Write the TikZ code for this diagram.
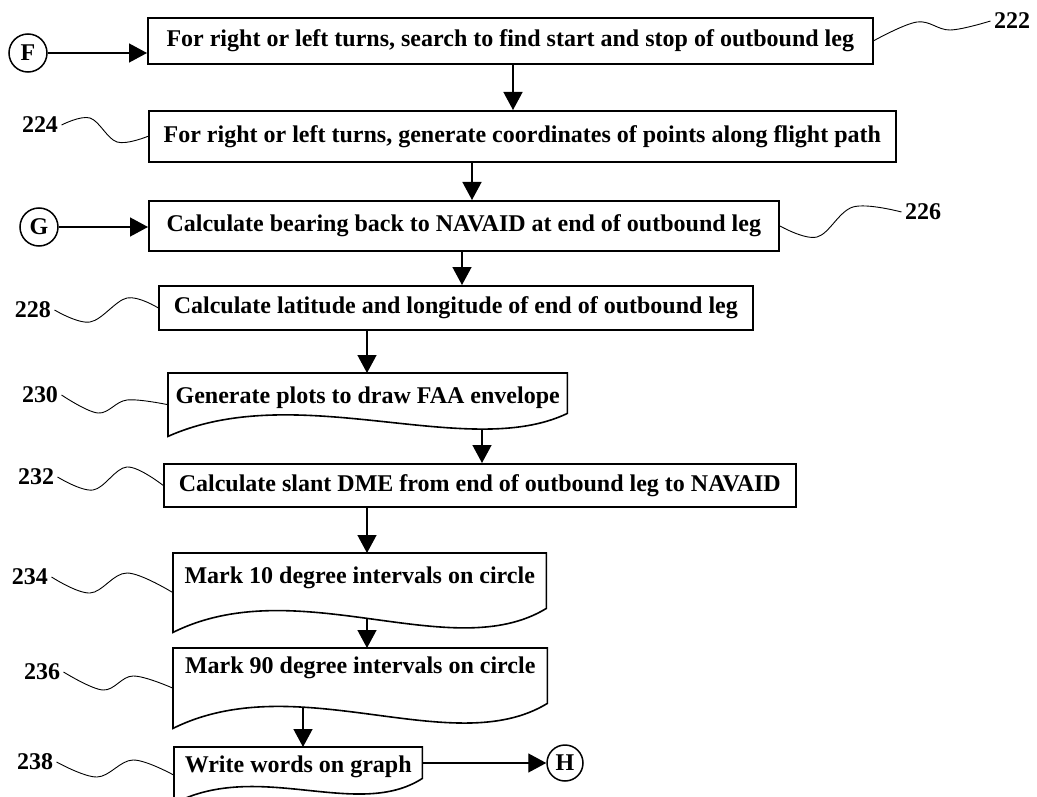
\documentclass[tikz,border=0pt]{standalone}
\usepackage{fontspec}
\setmainfont{Liberation Serif}
\usetikzlibrary{arrows.meta}
\begin{document}
\begin{tikzpicture}[x=1pt, y=-1pt,
    every node/.style={font=\fontsize{24}{28}\selectfont\bfseries},
    stepbox/.style={draw, line width=1.6pt, anchor=north west, inner xsep=6pt, inner ysep=0pt},
    docbox/.style={anchor=north west, inner xsep=6pt, inner ysep=0pt},
    boxline/.style={line width=1.6pt},
    flow/.style={line width=1.4pt, -{Triangle[width=19pt,length=18pt]}},
    leader/.style={line width=0.9pt},
    joint/.style={draw, circle, line width=1.5pt, minimum size=38pt, inner sep=0pt}]
        \useasboundingbox (0,0) rectangle (1037,797);
        \node[stepbox, minimum width=725pt, minimum height=46pt] (b222) at (147,17) {For right or left turns, search to find start and stop of outbound leg};
        \node[stepbox, minimum width=747pt, minimum height=51pt] (b224) at (148,110) {For right or left turns, generate coordinates of points along flight path};
        \node[stepbox, minimum width=630pt, minimum height=50pt] (b226) at (148,200) {Calculate bearing back to NAVAID at end of outbound leg};
        \node[stepbox, minimum width=594pt, minimum height=44pt] (b228) at (158,285) {Calculate latitude and longitude of end of outbound leg};
        \node[docbox, minimum width=399pt, text height=30pt, text depth=33pt] (b230) at (168,373) {Generate plots to draw FAA envelope};
        \node[stepbox, minimum width=632pt, minimum height=43pt] (b232) at (163,463) {Calculate slant DME from end of outbound leg to NAVAID};
        \node[docbox, minimum width=373pt, text height=30pt, text depth=49pt] (b234) at (173,553) {Mark 10 degree intervals on circle};
        \node[docbox, minimum width=374pt, text height=25pt, text depth=55pt] (b236) at (173,648) {Mark 90 degree intervals on circle};
        \node[docbox, minimum width=248pt, text height=25pt, text depth=31pt] (b238) at (174,747) {Write words on graph};
        \draw[boxline] (b230.north west) -- (b230.north east) -- ([yshift=23pt]b230.south east) .. controls +(-100,48) and +(130,-58) .. (b230.south west) -- cycle;
        \draw[boxline] (b234.north west) -- (b234.north east) -- ([yshift=24pt]b234.south east) .. controls +(-95,58) and +(125,-62) .. (b234.south west) -- cycle;
        \draw[boxline] (b236.north west) -- (b236.north east) -- ([yshift=25pt]b236.south east) .. controls +(-95,58) and +(125,-62) .. (b236.south west) -- cycle;
        \draw[boxline] (b238.north west) -- (b238.north east) -- ([yshift=25pt]b238.south east) .. controls +(-65,42) and +(85,-44) .. (b238.south west) -- cycle;
        \coordinate (w230) at (482,429);
        \coordinate (w234) at (367,619);
        \coordinate (w236) at (303,707);
        \node[joint] (F) at (28,53) {F};
        \node[joint] (G) at (39,227) {G};
        \node[joint, minimum size=36pt] (H) at (565,763) {H};
        \draw[flow] (F.east) -- (F.east -| b222.west);
        \draw[flow] (G.east) -- (G.east -| b226.west);
        \draw[flow] (H.west -| b238.east) -- (H.west);
        \draw[flow] (b222.south -| 513,0) -- (b224.north -| 513,0);
        \draw[flow] (b224.south -| 472,0) -- (b226.north -| 472,0);
        \draw[flow] (b226.south -| 462,0) -- (b228.north -| 462,0);
        \draw[flow] (b228.south -| 367,0) -- (b230.north -| 367,0);
        \draw[flow] (w230) -- (w230 |- b232.north);
        \draw[flow] (b232.south -| 367,0) -- (b234.north -| 367,0);
        \draw[flow] (w234) -- (w234 |- b236.north);
        \draw[flow] (w236) -- (w236 |- b238.north);
        \node (l222) at (1012,21) {222};
        \node (l224) at (40,125) {224};
        \node (l226) at (923,212) {226};
        \node (l228) at (33,310) {228};
        \node (l230) at (40,395) {230};
        \node (l232) at (36,477) {232};
        \node (l234) at (30,577) {234};
        \node (l236) at (42,672) {236};
        \node (l238) at (35,762) {238};
        \draw[leader] plot[smooth, tension=0.6] coordinates {(b222.east) (917,22) (950,30) (l222.west)};
        \draw[leader] plot[smooth, tension=0.6] coordinates {(l224.east) (90,118) (117,142) (b224.west)};
        \draw[leader] plot[smooth, tension=0.6] coordinates {(b226.east) (817,237) (853,207) (l226.west)};
        \draw[leader] plot[smooth, tension=0.6] coordinates {(l228.east) (90,322) (127,298) (b228.west)};
        \draw[leader] plot[smooth, tension=0.6] coordinates {(l230.east) (98,413) (127,400) (b230.west)};
        \draw[leader] plot[smooth, tension=0.6] coordinates {(l232.east) (93,490) (127,467) (b232.west)};
        \draw[leader] plot[smooth, tension=0.6] coordinates {(l234.east) (90,593) (127,573) (b234.west)};
        \draw[leader] plot[smooth, tension=0.6] coordinates {(l236.east) (103,690) (133,676) (b236.west)};
        \draw[leader] plot[smooth, tension=0.6] coordinates {(l238.east) (97,777) (133,760) (b238.west)};
      \end{tikzpicture}
\end{document}
